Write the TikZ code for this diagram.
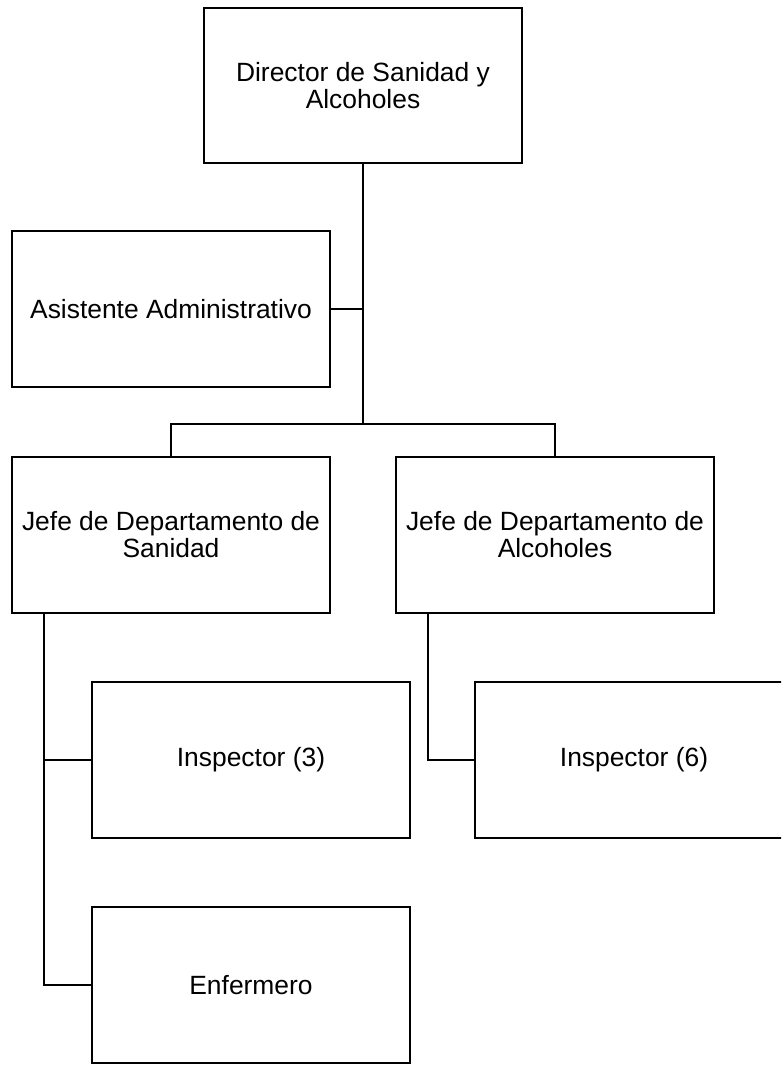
\documentclass[tikz,border=0pt]{standalone}
\usepackage{fontspec}
\setmainfont{Liberation Sans}
\usetikzlibrary{positioning}
\tikzset{
  orgbox/.style={draw=black, line width=1.5pt, fill=white, align=center,
    minimum width=238.5pt, minimum height=116.5pt, inner sep=2pt,
    font=\fontsize{19.8}{20.3}\selectfont},
  link/.style={draw=black, line width=1.5pt},
}

\begin{document}
\begin{tikzpicture}[x=0.75pt, y=-0.75pt]

  \clip (0,0) rectangle (781,1066);
  \fill[white] (0,0) rectangle (781,1066);

  % top level
  \node[orgbox] (director) at (363,85.5) {Director de Sanidad y\\Alcoholes};
  \node[orgbox] (asistente) at (171,309) {Asistente Administrativo};

  % departments
  \node[orgbox] (jefeSan) at (171,535) {Jefe de Departamento de\\Sanidad};
  \node[orgbox] (jefeAlc) at (555,535) {Jefe de Departamento de\\Alcoholes};

  % staff
  \node[orgbox] (inspSan) at (251,760) {Inspector (3)};
  \node[orgbox] (inspAlc) at (634,760) {Inspector (6)};
  \node[orgbox] (enfermero) at (251,985) {Enfermero};

  % connectors
  \coordinate (hub) at (363,424);
  \coordinate (sanTrunk) at (44,613);
  \coordinate (alcTrunk) at (428,613);

  \draw[link] (director.south) -- (hub);
  \draw[link] (asistente.east) -- (asistente.east -| hub);
  \draw[link] (jefeSan.north) |- (hub) -| (jefeAlc.north);
  \draw[link] (sanTrunk) |- (enfermero.west);
  \draw[link] (sanTrunk |- inspSan.west) -- (inspSan.west);
  \draw[link] (alcTrunk) |- (inspAlc.west);

\end{tikzpicture}
\end{document}
